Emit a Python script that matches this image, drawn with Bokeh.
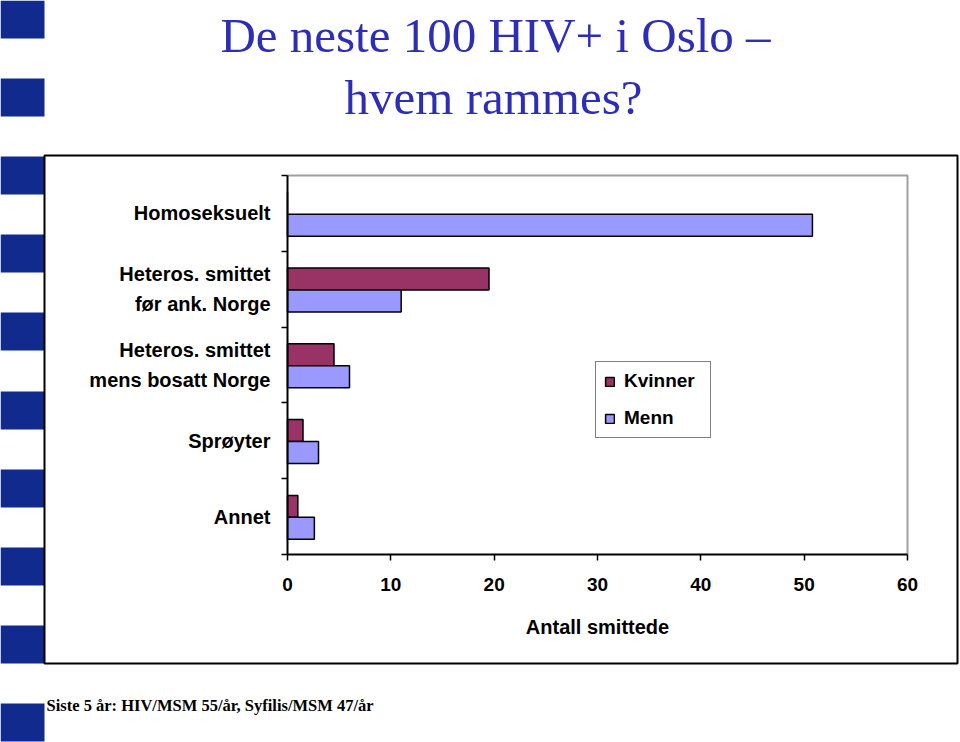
import numpy as np
from bokeh.plotting import figure
from bokeh.models import Range1d, FixedTicker, Label, BoxAnnotation, LinearAxis
from bokeh.embed import file_html
from bokeh.resources import INLINE

# ---------------- data ----------------
categories = [
    "Homoseksuelt",
    "Heteros. smittet\nfør ank. Norge",
    "Heteros. smittet\nmens bosatt Norge",
    "Sprøyter",
    "Annet",
]
kvinner = [0.0, 19.5, 4.5, 1.5, 1.0]
menn = [50.8, 11.0, 6.0, 3.0, 2.6]
series_names = ["Kvinner", "Menn"]
x_ticks = [0, 10, 20, 30, 40, 50, 60]
x_min, x_max = 0, 60
x_label = "Antall smittede"
title_lines = ["De neste 100 HIV+ i Oslo –", "hvem rammes?"]
note_text = "Siste 5 år: HIV/MSM 55/år, Syfilis/MSM 47/år"

# ---------------- layout constants (page pixels) ----------------
W, H = 960, 742
CL, CT, CR, CB = 287, 175, 907, 554   # chart area on the page
BLUE = "#112a8e"
TITLE_BLUE = "#2d2db8"
KV_COLOR = "#993366"
ME_COLOR = "#9999FF"
SANS = "Liberation Sans"
SERIF = "Liberation Serif"

n = len(categories)
centers = n - np.arange(n) - 0.5

# ranges chosen so the data area lands on the chart area of the slide
kx = (CR - CL) / (x_max - x_min)
ky = (CB - CT) / n
x_range = Range1d(x_min - CL / kx, x_max + (W - CR) / kx)
y_range = Range1d(0 - (H - CB) / ky, n + CT / ky)

p = figure(
    width=W, height=H,
    output_backend="svg", toolbar_location=None,
    x_range=x_range, y_range=y_range,
    x_axis_location=None, y_axis_location=None,
    min_border=0, min_border_left=0, min_border_right=0,
    min_border_top=0, min_border_bottom=0,
    background_fill_color="white", border_fill_color="white",
)
p.outline_line_color = None
p.xgrid.grid_line_color = None
p.ygrid.grid_line_color = None

# grey top/right border of the plot area
p.line(x=[x_min, x_max, x_max], y=[n, n, 0], line_color="#a0a0a0", line_width=2)

p.hbar(y=centers + 0.135, left=0, right=kvinner, height=0.29,
       fill_color=KV_COLOR, line_color="black", line_width=1.5,
       legend_label=series_names[0])
p.hbar(y=centers - 0.155, left=0, right=menn, height=0.29,
       fill_color=ME_COLOR, line_color="black", line_width=1.5,
       legend_label=series_names[1])

# x axis
xa = LinearAxis(fixed_location=0, bounds=(x_min, x_max),
                ticker=FixedTicker(ticks=x_ticks, minor_ticks=[]))
xa.axis_line_width = 2
xa.axis_line_color = "black"
xa.major_tick_in = 0
xa.major_tick_out = 6
xa.major_tick_line_width = 1.5
xa.minor_tick_line_color = None
xa.major_label_text_font = SANS
xa.major_label_text_font_style = "bold"
xa.major_label_text_font_size = "19px"
xa.major_label_text_color = "black"
xa.major_label_standoff = 17
xa.axis_label = x_label
xa.axis_label_text_font = SANS
xa.axis_label_text_font_style = "bold"
xa.axis_label_text_font_size = "20px"
xa.axis_label_text_color = "black"
xa.axis_label_standoff = 22
p.add_layout(xa, "below")

# y axis (labels at category centres, ticks at boundaries)
ya = LinearAxis(fixed_location=0, bounds=(0, n),
                ticker=FixedTicker(ticks=[float(c) for c in centers],
                                   minor_ticks=list(range(n + 1))))
ya.major_label_overrides = {float(c): cat for c, cat in zip(centers, categories)}
ya.axis_line_width = 2
ya.axis_line_color = "black"
ya.major_tick_line_color = None
ya.minor_tick_in = 0
ya.minor_tick_out = 6
ya.minor_tick_line_width = 1.5
ya.minor_tick_line_color = "black"
ya.major_label_text_font = SANS
ya.major_label_text_font_style = "bold"
ya.major_label_text_font_size = "20px"
ya.major_label_text_color = "black"
ya.major_label_text_line_height = 1.35
ya.major_label_standoff = 11
p.add_layout(ya, "left")

# legend
lg = p.legend[0]
lg.location = (595, H - 438)
lg.margin = 0
lg.padding = 8
lg.spacing = 15
lg.label_height = 21
lg.label_width = 78
lg.glyph_width = 11
lg.glyph_height = 11
lg.label_standoff = 9
lg.label_text_font = SANS
lg.label_text_font_style = "bold"
lg.label_text_font_size = "19px"
lg.label_text_color = "black"
lg.border_line_color = "black"
lg.border_line_width = 1.5
lg.background_fill_color = "white"
lg.background_fill_alpha = 1

# decorations: blue squares on the left edge
square_tops = [0, 78, 156, 234, 312, 391, 469, 547, 625, 703]
for t in square_tops:
    p.add_layout(BoxAnnotation(
        left=0, right=44, top=H - t, bottom=H - (t + 38),
        left_units="screen", right_units="screen",
        top_units="screen", bottom_units="screen",
        fill_color=BLUE, fill_alpha=1, line_color=None))

# outer chart box
p.add_layout(BoxAnnotation(
    left=44, right=957, top=H - 155, bottom=H - 663,
    left_units="screen", right_units="screen",
    top_units="screen", bottom_units="screen",
    fill_alpha=0, line_color="black", line_alpha=1, line_width=2))

# title
for text, base, cx in [(title_lines[0], 35, 495), (title_lines[1], 97, 493)]:
    p.add_layout(Label(
        x=cx, y=H - base, x_units="screen", y_units="screen",
        text=text, text_font=SERIF, text_font_size="49px",
        text_color=TITLE_BLUE, text_align="center",
        text_baseline="alphabetic"))

# bottom note
p.add_layout(Label(
    x=46, y=H - 705, x_units="screen", y_units="screen",
    text=note_text, text_font=SERIF, text_font_size="16.5px",
    text_font_style="bold", text_color="black", text_align="left",
    text_baseline="alphabetic"))

open("out.html", "w").write(file_html(p, INLINE))
